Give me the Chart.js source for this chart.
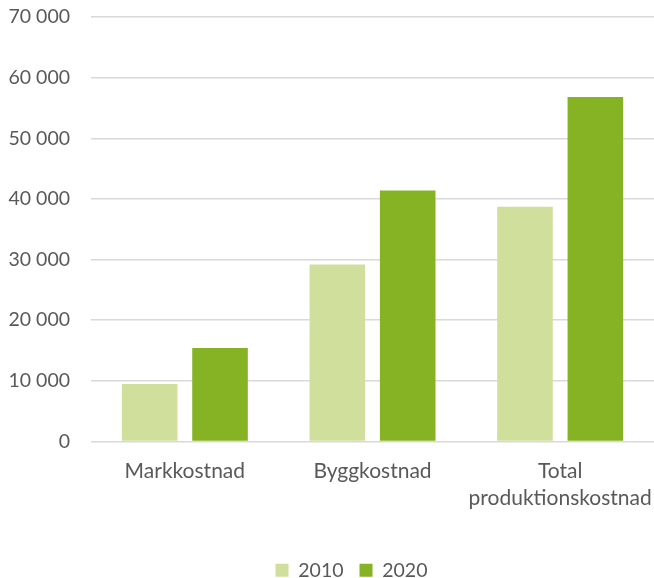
<!DOCTYPE html>
<html>
<head>
<meta charset="utf-8">
<script src="https://cdn.jsdelivr.net/npm/chart.js@4"></script>
<style>
  html, body { margin: 0; padding: 0; background: #fff; }
  #wrap { width: 654px; height: 578px; }
</style>
</head>
<body>
<div id="wrap"><canvas id="costChart"></canvas></div>
<script>
// categories and yearly values (kr)
const categories = ['Markkostnad', 'Byggkostnad', ['Total', 'produktionskostnad']];
const years = ['2010', '2020'];
const values2010 = [9500, 29200, 38700];
const values2020 = [15400, 41400, 56800];

const textColor = '#595959';
const fontFamily = 'Lato, "Open Sans", sans-serif';

// thousands with a space, e.g. 70 000
function formatThousands(v) {
    return String(v).replace(/\B(?=(\d{3})+(?!\d))/g, ' ');
}

// nudge the legend a bit right of centre
const legendShift = {
    id: 'legendShift',
    afterLayout(chart) {
        chart.legend.left += 22;
        chart.legend.right += 22;
    }
};

const ctx = document.getElementById('costChart').getContext('2d');
new Chart(ctx, {
    type: 'bar',
    data: {
        labels: categories,
        datasets: [{
            label: years[0],
            data: values2010,
            backgroundColor: '#d0e09c',
            categoryPercentage: 0.75,
            barPercentage: 0.79
        }, {
            label: years[1],
            data: values2020,
            backgroundColor: '#86b323',
            categoryPercentage: 0.75,
            barPercentage: 0.79
        }]
    },
    options: {
        responsive: true,
        maintainAspectRatio: false,
        animation: false,
        layout: {
            padding: { top: 17, right: -5, bottom: -12, left: 0 }
        },
        scales: {
            x: {
                grid: { display: false },
                border: { display: false },
                ticks: {
                    color: textColor,
                    padding: 8,
                    minRotation: 0,
                    maxRotation: 0,
                    autoSkip: false,
                    font: { family: fontFamily, size: 21, lineHeight: 1.3 }
                },
                afterFit: function(scale) {
                    scale.height = 103;
                    // let the long last label run off the edge
                    scale.paddingLeft = 0;
                    scale.paddingRight = 0;
                }
            },
            y: {
                min: 0,
                max: 70000,
                border: { display: false },
                grid: { color: '#d9d9d9', lineWidth: 1.5, drawTicks: false },
                ticks: {
                    stepSize: 10000,
                    color: textColor,
                    padding: 21,
                    font: { family: fontFamily, size: 19.5 },
                    callback: function(v) { return formatThousands(v); }
                },
                afterFit: function(scale) {
                    scale.width = 91;
                    scale.paddingTop = 0;
                    scale.paddingBottom = 0;
                }
            }
        },
        plugins: {
            legend: {
                position: 'bottom',
                labels: {
                    color: textColor,
                    boxWidth: 13,
                    boxHeight: 13,
                    padding: 16,
                    font: { family: fontFamily, size: 19.5 }
                }
            },
            tooltip: { enabled: false }
        }
    },
    plugins: [legendShift]
});
</script>
</body>
</html>
